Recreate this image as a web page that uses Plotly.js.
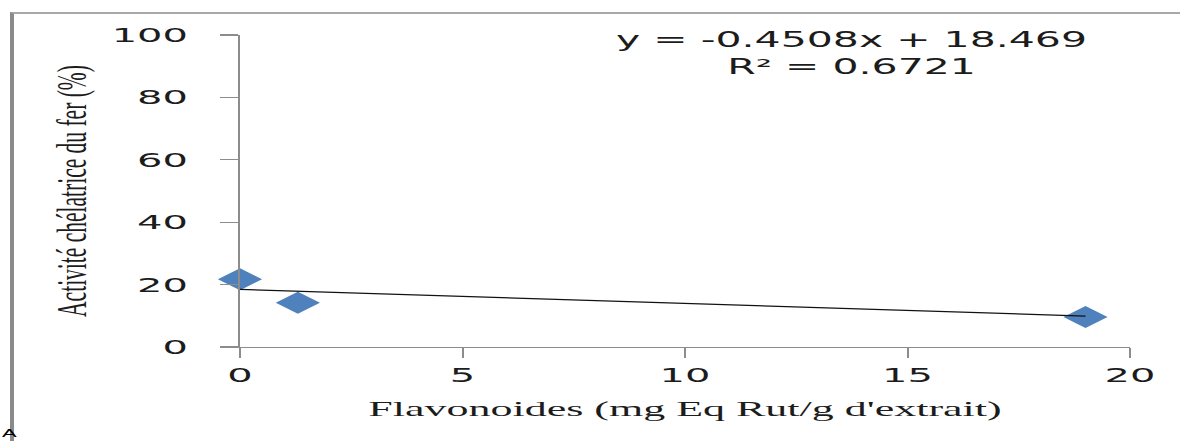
<!DOCTYPE html>
<html>
<head>
<meta charset="utf-8">
<script src="https://cdn.plot.ly/plotly-3.0.1.min.js"></script>
<style>
html,body{margin:0;padding:0;background:#ffffff;overflow:hidden;width:1180px;height:441px;}
#wrap{position:relative;width:590px;height:441px;transform:scaleX(2);transform-origin:0 0;}
#frame{position:absolute;left:4.5px;top:12px;width:640px;height:460px;border-top:2px solid #a8a8a8;border-left:2px solid #8a8a8a;}
#chart{position:absolute;left:0;top:0;width:590px;height:441px;}
</style>
</head>
<body>
<div id="wrap"><div id="frame"></div><div id="chart"></div></div>
<script>
// Data
const flavonoides = [0, 1.3, 19];          // mg Eq Rut / g d'extrait
const chelation   = [21.7, 14.2, 9.6];     // Activité chélatrice du fer (%)
const trendSlope = -0.4508;
const trendIntercept = 18.469;
const trendR2 = 0.6721;
const xTickVals = [0, 5, 10, 15, 20];
const yTickVals = [0, 20, 40, 60, 80, 100];
const xTitle = "Flavonoides (mg Eq Rut/g d'extrait)";
const yTitle = "Activité chélatrice du fer (%)";
const panelLabel = "A";

const trendX = [Math.min(...flavonoides), Math.max(...flavonoides)];
const trendY = trendX.map(v => trendSlope * v + trendIntercept);

const axisGray = '#8c8c8c';
const textCol = '#1c1c1c';
const nb = '\u00A0';

const traces = [
  {
    type: 'scatter', mode: 'markers',
    x: flavonoides, y: chelation,
    cliponaxis: false,
    marker: {symbol: 'diamond', size: 17, color: '#4F81BD', line: {width: 0}},
    hoverinfo: 'x+y'
  },
  {
    type: 'scatter', mode: 'lines',
    x: trendX, y: trendY,
    cliponaxis: false,
    line: {color: '#111111', width: 1.3},
    hoverinfo: 'skip'
  }
];

const layout = {
  width: 590, height: 441,
  margin: {l: 120, r: 25, t: 35, b: 94},
  paper_bgcolor: 'rgba(0,0,0,0)',
  plot_bgcolor: 'rgba(0,0,0,0)',
  showlegend: false,
  font: {family: 'DejaVu Sans', color: textCol},
  xaxis: {
    range: [0, 20], tickvals: xTickVals,
    ticks: 'outside', ticklen: 10, tickwidth: 1, tickcolor: axisGray,
    showline: true, linecolor: axisGray, linewidth: 1.3,
    showgrid: false, zeroline: false,
    tickfont: {family: 'DejaVu Sans', size: 20, color: textCol},
    title: {text: xTitle + nb + nb, font: {family: 'Liberation Serif', size: 22, color: textCol}, standoff: 14}
  },
  yaxis: {
    range: [0, 100], tickvals: yTickVals,
    ticks: 'outside', ticklen: 9, tickwidth: 1.3, tickcolor: axisGray,
    showline: true, linecolor: axisGray, linewidth: 1,
    showgrid: false, zeroline: false,
    ticklabelstandoff: 12,
    tickfont: {family: 'DejaVu Sans', size: 20, color: textCol},
    title: {text: yTitle + nb + nb + nb, font: {family: 'Liberation Serif', size: 21.5, color: textCol}, standoff: 6}
  },
  annotations: [
    {
      xref: 'paper', yref: 'paper', x: 0.6876, y: 0.942,
      xanchor: 'center', yanchor: 'middle', align: 'center', showarrow: false,
      text: 'y = ' + trendSlope + 'x + ' + trendIntercept + '<br>R² = ' + trendR2,
      font: {family: 'DejaVu Sans', size: 20.5, color: textCol}
    },
    {
      xref: 'paper', yref: 'paper', x: -0.2697, y: -0.2995,
      xanchor: 'left', yanchor: 'bottom', showarrow: false,
      borderpad: 0,
      text: panelLabel,
      font: {family: 'Liberation Sans', size: 11, color: '#000000'}
    }
  ]
};

Plotly.newPlot('chart', traces, layout, {displayModeBar: false, staticPlot: true});
</script>
</body>
</html>
